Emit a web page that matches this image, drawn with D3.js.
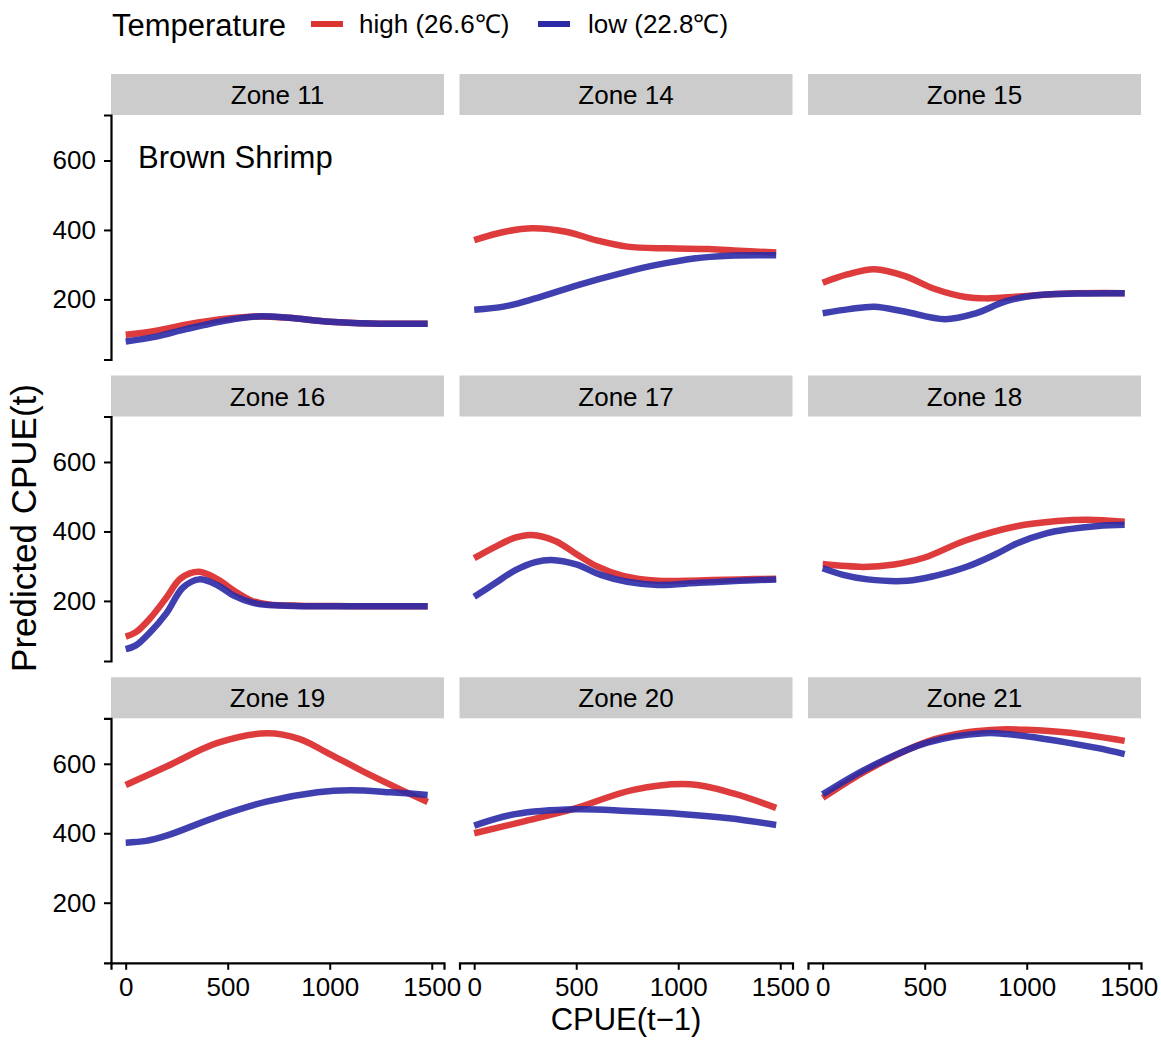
<!DOCTYPE html>
<html>
<head>
<meta charset="utf-8">
<script src="https://cdn.jsdelivr.net/npm/d3@7"></script>
<style>
  body { margin: 0; background: #fff; }
  text { font-family: "Liberation Sans", Arial, sans-serif; fill: #000; }
</style>
</head>
<body>
<div id="chart"></div>
<script>
// facet order, row by row
const zones = ['Zone 11', 'Zone 14', 'Zone 15', 'Zone 16', 'Zone 17', 'Zone 18', 'Zone 19', 'Zone 20', 'Zone 21'];
const seriesNames = ['high (26.6\u2103)', 'low (22.8\u2103)'];
const xTicks = [0, 500, 1000, 1500];
const yTicks = [200, 400, 600];

// [CPUE(t-1), predicted CPUE(t)]
const zone11High = [[0,98],[150,110],[300,128],[500,145],[650,151],[800,147],[1000,136],[1200,131],[1480,130]];
const zone11Low  = [[0,79],[150,93],[300,115],[500,140],[650,151],[800,147],[1000,136],[1200,131],[1480,130]];
const zone14High = [[0,371],[150,395],[285,405],[450,395],[600,370],[750,352],[950,347],[1150,345],[1300,340],[1480,335]];
const zone14Low  = [[0,170],[150,180],[300,203],[500,240],[737,278],[900,300],[1077,318],[1250,326],[1480,327]];
const zone15High = [[0,248],[120,272],[254,287],[400,268],[550,230],[700,207],[800,203],[1000,210],[1200,217],[1480,218]];
const zone15Low  = [[0,160],[130,172],[254,179],[400,165],[600,143],[750,160],[900,195],[1050,212],[1250,217],[1480,218]];
const zone16High = [[0,97],[50,110],[120,150],[200,210],[270,265],[360,284],[450,262],[530,230],[620,200],[700,190],[850,186],[1100,185],[1480,185]];
const zone16Low  = [[0,61],[50,72],[120,110],[200,165],[280,238],[360,262],[450,245],[530,215],[620,195],[700,188],[850,185],[1100,185],[1480,185]];
const zone17High = [[0,323],[100,355],[200,382],[280,390],[400,372],[500,335],[600,300],[730,272],[900,258],[1100,259],[1300,262],[1480,264]];
const zone17Low  = [[0,212],[100,250],[200,288],[300,312],[380,318],[500,305],[620,275],[750,255],[900,246],[1100,252],[1300,258],[1480,262]];
const zone18High = [[0,306],[200,298],[350,305],[500,325],[700,374],[950,415],[1150,430],[1300,434],[1480,428]];
const zone18Low  = [[0,294],[100,275],[220,262],[415,258],[550,272],[709,299],[850,335],[954,366],[1100,395],[1199,406],[1350,416],[1480,419]];
const zone19High = [[0,539],[200,592],[450,660],[690,688],[850,672],[1000,628],[1180,573],[1350,525],[1480,490]];
const zone19Low  = [[0,373],[100,378],[200,393],[450,448],[690,491],[940,518],[1100,524],[1300,518],[1480,510]];
const zone20High = [[0,400],[250,435],[486,470],[780,525],[1058,541],[1270,515],[1480,473]];
const zone20Low  = [[0,422],[200,455],[500,469],[750,464],[1025,455],[1250,443],[1480,424]];
const zone21High = [[0,502],[219,582],[513,664],[700,690],[873,699],[1000,698],[1199,690],[1480,666]];
const zone21Low  = [[0,512],[219,587],[513,661],[791,688],[900,686],[1050,675],[1199,661],[1350,645],[1480,628]];

const highSeries = [zone11High, zone14High, zone15High, zone16High, zone17High, zone18High, zone19High, zone20High, zone21High];
const lowSeries  = [zone11Low, zone14Low, zone15Low, zone16Low, zone17Low, zone18Low, zone19Low, zone20Low, zone21Low];

const width = 1161, height = 1040;
const colLeft = [111, 459.5, 808];
const rowTop = [115, 416.5, 718.3];
const panelW = 333, panelH = 244.5, stripH = 41;
const colors = ['#dc3232', '#2a2aa6'];

const svg = d3.select('#chart').append('svg')
  .attr('width', width)
  .attr('height', height);

// legend
const legend = svg.append('g');
legend.append('text').attr('x', 112).attr('y', 36).style('font-size', '31px').text('Temperature');
const legendX = [[311, 359], [538, 588]];
seriesNames.forEach((name, i) => {
  legend.append('line')
    .attr('x1', legendX[i][0]).attr('x2', legendX[i][0] + 32)
    .attr('y1', 24).attr('y2', 24)
    .attr('stroke', colors[i]).attr('stroke-width', 6);
  legend.append('text').attr('x', legendX[i][1]).attr('y', 33)
    .style('font-size', '26px').text(name);
});

const line = d3.line().curve(d3.curveCatmullRom.alpha(0.5));

zones.forEach((zone, idx) => {
  const r = Math.floor(idx / 3), c = idx % 3;
  const left = colLeft[c], top = rowTop[r];

  const x = d3.scaleLinear().domain([-72, 1560]).range([left, left + panelW]);
  const y = d3.scaleLinear().domain([27, 731]).range([top + panelH, top]);

  // strip
  svg.append('rect')
    .attr('x', left).attr('y', top - stripH)
    .attr('width', panelW).attr('height', stripH)
    .attr('fill', '#cccccc');
  svg.append('text')
    .attr('x', left + panelW / 2).attr('y', top - stripH / 2 + 9.5)
    .attr('text-anchor', 'middle')
    .style('font-size', '26px')
    .text(zone);

  // curves
  line.x(d => x(d[0])).y(d => y(d[1]));
  svg.append('path').datum(highSeries[idx])
    .attr('d', line).attr('fill', 'none')
    .attr('stroke', colors[0]).attr('stroke-width', 6.5).attr('opacity', 0.95);
  svg.append('path').datum(lowSeries[idx])
    .attr('d', line).attr('fill', 'none')
    .attr('stroke', colors[1]).attr('stroke-width', 6.5).attr('opacity', 0.9);

  if (c === 0) {
    const ya = svg.append('g')
      .attr('transform', `translate(${left},0)`)
      .call(d3.axisLeft(y).tickValues(yTicks).tickFormat(d3.format('d'))
        .tickSizeOuter(0).tickSize(7).tickPadding(8));
    ya.select('.domain').attr('stroke-width', 2.2);
    ya.selectAll('.tick line').attr('stroke-width', 2);
    ya.selectAll('.tick text').style('font-size', '26px').attr('fill', '#000');
  }
  if (r === 2) {
    const xa = svg.append('g')
      .attr('transform', `translate(0,${top + panelH})`)
      .call(d3.axisBottom(x).tickValues(xTicks).tickFormat(d3.format('d'))
        .tickSizeOuter(0).tickSize(7).tickPadding(8));
    xa.select('.domain').attr('stroke-width', 2.2);
    xa.selectAll('.tick line').attr('stroke-width', 2);
    xa.selectAll('.tick text').style('font-size', '26px').attr('fill', '#000');
  }
  if (idx === 0) {
    svg.append('text').attr('x', 138).attr('y', 168).style('font-size', '31px').text('Brown Shrimp');
  }
});

// axis titles
svg.append('text')
  .attr('x', (colLeft[0] + colLeft[2] + panelW) / 2).attr('y', 1030)
  .attr('text-anchor', 'middle').style('font-size', '31px')
  .text('CPUE(t\u22121)');
svg.append('text')
  .attr('transform', 'translate(36,528) rotate(-90)')
  .attr('text-anchor', 'middle').style('font-size', '35px')
  .text('Predicted CPUE(t)');
</script>
</body>
</html>
